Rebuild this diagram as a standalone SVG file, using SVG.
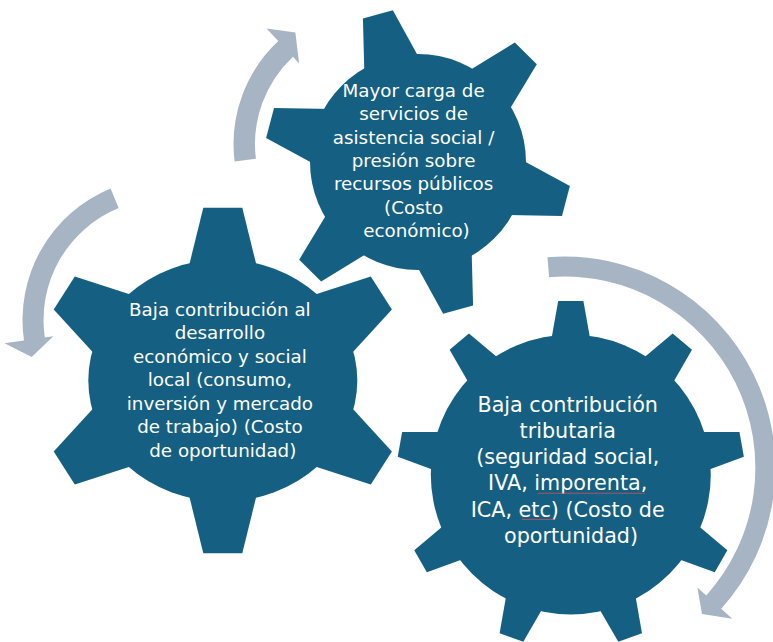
<svg xmlns="http://www.w3.org/2000/svg" width="773" height="642" viewBox="0 0 773 642">
<style>
.gear{fill:#156082}
.arrow{fill:#A7B4C3}
.lbl{font-family:"DejaVu Sans","Open Sans",sans-serif;fill:#FFFFFF;text-anchor:middle}
.s{font-size:18.3px}
.l{font-size:20.7px}
.sp{stroke:#C4505C;stroke-width:1.1;fill:none;opacity:0.85}
</style>
<defs>
<polygon id="t1" points="-29.4,-96 -15.5,-153 15.5,-153 29.4,-96"/>
<polygon id="t3" points="-20.7,-128 -12.6,-173.5 12.6,-173.5 20.7,-128"/>
</defs>
<rect width="773" height="642" fill="#FFFFFF"/>
<g id="connectors">
<path id="arrow-a" class="arrow" d="M234.6,161.4 A141,141 0 0 1 278.3,41.1 L266.5,28.4 L295.4,32.6 L299.1,63.4 L293.0,56.8 A119.5,119.5 0 0 0 255.9,158.8 Z"/>
<path id="arrow-b" class="arrow" d="M110.6,188.6 A142,142 0 0 0 24.0,340.5 L4.6,343.3 L31.7,357 L53.3,336.2 L44.8,337.5 A121,121 0 0 1 118.6,208.1 Z"/>
<path id="arrow-c" class="arrow" d="M547.5,257.3 A211,211 0 0 1 721.2,608.8 L732.3,618.8 L702.0,614.1 L697.4,587.4 L706.3,595.4 A191,191 0 0 0 549.1,277.2 Z"/>
</g>
<g id="gear-1">
<g class="gear" transform="translate(418,162)">
<circle r="108"/>
<use href="#t1" transform="rotate(-15.2)"/>
<use href="#t1" transform="rotate(44.8)"/>
<use href="#t1" transform="rotate(104.8)"/>
<use href="#t1" transform="rotate(164.8)"/>
<use href="#t1" transform="rotate(224.8)"/>
<use href="#t1" transform="rotate(284.8)"/>
</g>
<text class="lbl s">
<tspan x="416.5" y="96.7">Mayor carga de</tspan>
<tspan x="416.5" y="120.1">servicios de</tspan>
<tspan x="416.5" y="143.6">asistencia social /</tspan>
<tspan x="416.5" y="167">presión sobre</tspan>
<tspan x="416.5" y="190.4">recursos públicos</tspan>
<tspan x="416.5" y="213.9">(Costo</tspan>
<tspan x="416.5" y="237.3">económico)</tspan>
</text>
</g>
<g id="gear-2">
<g class="gear">
<ellipse cx="222.8" cy="380.5" rx="134.5" ry="121"/>
<polygon points="187.6,271.5 203.3,207.7 242.3,207.7 258,271.5"/>
<polygon points="187.6,489.5 203.3,553.3 242.3,553.3 258,489.5"/>
<polygon points="309.8,296.3 370.8,276.5 391.9,309.5 348.6,356.7"/>
<polygon points="309.8,464.7 370.8,484.5 391.9,451.5 348.6,404.3"/>
<polygon points="135.8,296.3 74.8,276.5 53.7,309.5 97,356.7"/>
<polygon points="135.8,464.7 74.8,484.5 53.7,451.5 97,404.3"/>
</g>
<text class="lbl s">
<tspan x="222.8" y="316">Baja contribución al</tspan>
<tspan x="222.8" y="339.4">desarrollo</tspan>
<tspan x="222.8" y="362.8">económico y social</tspan>
<tspan x="222.8" y="386.3">local (consumo,</tspan>
<tspan x="222.8" y="409.7">inversión y mercado</tspan>
<tspan x="222.8" y="433.1">de trabajo) (Costo</tspan>
<tspan x="222.8" y="456.5">de oportunidad)</tspan>
</text>
</g>
<g id="gear-3">
<g class="gear" transform="translate(570.8,474.5)">
<circle r="140"/>
<use href="#t3"/>
<use href="#t3" transform="rotate(40)"/>
<use href="#t3" transform="rotate(80)"/>
<use href="#t3" transform="rotate(120)"/>
<use href="#t3" transform="rotate(160)"/>
<use href="#t3" transform="rotate(200)"/>
<use href="#t3" transform="rotate(240)"/>
<use href="#t3" transform="rotate(280)"/>
<use href="#t3" transform="rotate(320)"/>
</g>
<text class="lbl l">
<tspan x="571" y="411.7">Baja contribución</tspan>
<tspan x="571" y="437.9">tributaria</tspan>
<tspan x="571" y="464.1">(seguridad social,</tspan>
<tspan x="571" y="490.3">IVA, imporenta,</tspan>
<tspan x="571" y="516.5">ICA, etc) (Costo de</tspan>
<tspan x="571" y="542.7">oportunidad)</tspan>
</text>
<path class="sp" d="M538,493.2 H645"/>
<path class="sp" d="M522,519.4 H554"/>
</g>
</svg>
